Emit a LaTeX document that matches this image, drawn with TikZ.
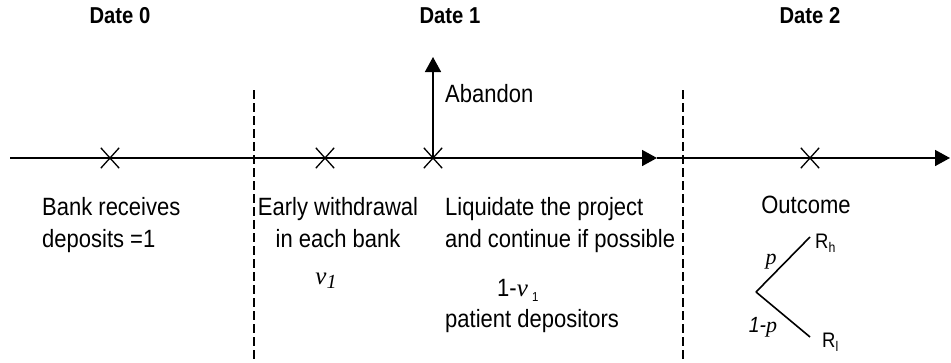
\documentclass[tikz,border=0pt]{standalone}
\usepackage{fontspec}
\setmainfont{Liberation Sans}[FakeStretch=0.88]
\newfontfamily\tms{Liberation Serif}
\usetikzlibrary{arrows.meta,shapes.misc}
\begin{document}
\begin{tikzpicture}[x=1pt,y=-1pt,
  line/.style={line width=1.6pt},
  tip/.style={-{Triangle[length=15pt,width=16pt]}},
  xmark/.style={cross out, draw, line width=1.3pt, minimum width=17pt, minimum height=19pt, inner sep=0pt},
  sep/.style={line width=1.6pt, dash pattern=on 9pt off 4pt},
  txt/.style={font=\fontsize{25}{32}\selectfont, inner sep=0pt},
  date/.style={font=\fontsize{23}{28}\selectfont\bfseries, inner sep=0pt, anchor=base}]
\useasboundingbox (0,0) rectangle (951,362);
% timeline
\coordinate (t0) at (10,158);
\coordinate (t1) at (657,158);
\coordinate (t2) at (950,158);
\node[xmark] (x0) at (110,158) {};
\node[xmark] (x1) at (325,158) {};
\node[xmark] (x2) at (433,158) {};
\node[xmark] (x3) at (810,158) {};
\draw[line, tip] (t0) -- (t1);
\draw[line, tip] (t1) -- (t2);
\coordinate (ab) at (433,57);
\draw[line, tip] (x2.center) -- (ab);
% separators
\coordinate (s1a) at (254,90);
\coordinate (s1b) at (254,362);
\coordinate (s2a) at (683,90);
\coordinate (s2b) at (683,362);
\draw[sep] (s1a) -- (s1b);
\draw[sep] (s2a) -- (s2b);
% dates
\node[date] (date0) at (120,23) {Date 0};
\node[date] (date1) at (450,23) {Date 1};
\node[date] (date2) at (810,23) {Date 2};
% texts
\node[txt, anchor=base west] (aband) at (445,102) {Abandon};
\node[txt, anchor=base west, align=left] (bank) at (42,247) {Bank receives\\deposits =1};
\node[txt, anchor=base, align=center] (early) at (338,247) {Early withdrawal\\in each bank};
\node[txt, anchor=base] (v1) at (326,284) {{\tms\itshape v}\raisebox{-4pt}{\tms\itshape\fontsize{20}{20}\selectfont 1}};
\node[txt, anchor=base west, align=left] (liq) at (445,247) {Liquidate the project\\and continue if possible};
\node[txt, anchor=base west] (onev) at (497,296) {1-{\tms\itshape v}\,\raisebox{-5pt}{\fontsize{13}{13}\selectfont 1}};
\node[txt, anchor=base west] (pat) at (445,327) {patient depositors};
\node[txt, anchor=base] (out) at (806,213) {Outcome};
% branch
\coordinate (bv) at (756,292);
\coordinate (bh) at (810,237);
\coordinate (bl) at (810,337);
\draw[line] (bv) -- (bh);
\draw[line] (bv) -- (bl);
\node[txt, anchor=base west, font=\fontsize{21}{21}\selectfont] (rh) at (815,248) {R\raisebox{-4pt}{\fontsize{14}{14}\selectfont h}};
\node[txt, anchor=base west, font=\fontsize{21}{21}\selectfont] (rl) at (822,347) {R\raisebox{-4pt}{\fontsize{14}{14}\selectfont l}};
\node[txt, anchor=base, font=\fontsize{22}{22}\selectfont] (pp) at (771,264) {\tms\itshape p};
\node[txt, anchor=base, font=\fontsize{22}{22}\selectfont] (qp) at (763,332) {\itshape 1-{\tms p}};
\end{tikzpicture}
\end{document}
